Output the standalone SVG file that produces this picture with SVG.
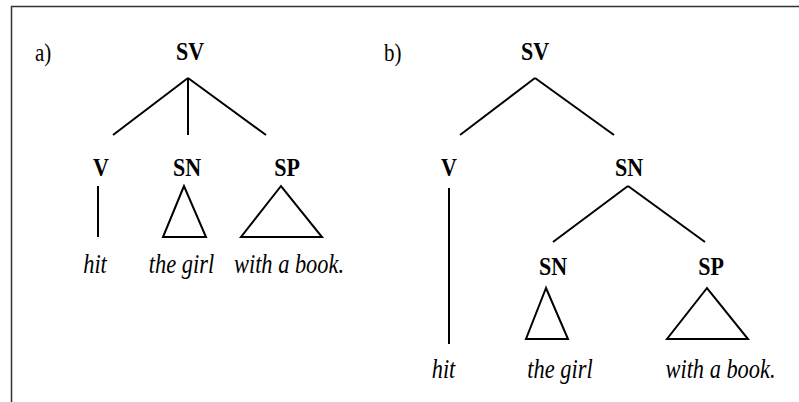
<svg xmlns="http://www.w3.org/2000/svg" width="799" height="402" viewBox="0 0 799 402">
<style>
.lab{font-family:"Liberation Serif","Times New Roman",serif;font-size:22px;font-weight:bold;fill:#000;text-anchor:middle}
.word{font-family:"Liberation Serif","Times New Roman",serif;font-size:22.4px;font-style:italic;fill:#000;text-anchor:middle}
.tag{font-family:"Liberation Serif","Times New Roman",serif;font-size:21px;fill:#000}
.ln{stroke:#000;stroke-width:2;fill:none;stroke-linecap:butt}
.tri{stroke:#000;stroke-width:2;fill:none;stroke-linejoin:miter}
</style>
<rect width="799" height="402" fill="#fff"/>
<path d="M11.5 402 V6.5 H799" stroke="#333" stroke-width="1.5" fill="none"/>
<text class="tag" transform="translate(35,61) scale(1,1.2)">a)</text>
<text class="tag" transform="translate(384,61) scale(1,1.2)">b)</text>
<g id="connectors">
<line class="ln" x1="188" y1="78" x2="113" y2="135"/>
<line class="ln" x1="188" y1="78" x2="188" y2="135"/>
<line class="ln" x1="188" y1="78" x2="266" y2="135"/>
<line class="ln" x1="98" y1="186" x2="98" y2="237"/>
<line class="ln" x1="535" y1="78" x2="460" y2="135"/>
<line class="ln" x1="535" y1="78" x2="614" y2="135"/>
<line class="ln" x1="449" y1="188" x2="449" y2="344"/>
<line class="ln" x1="628" y1="186" x2="553" y2="242"/>
<line class="ln" x1="628" y1="186" x2="705" y2="242"/>
</g>
<g id="a-SV"><text class="lab" transform="translate(190,60) scale(1,1.15)">SV</text></g>
<g id="a-V"><text class="lab" transform="translate(101,176) scale(1,1.15)">V</text></g>
<g id="a-SN"><text class="lab" transform="translate(187,176) scale(1,1.15)">SN</text>
<polygon class="tri" points="184,186 163,237 206,237"/></g>
<g id="a-SP"><text class="lab" transform="translate(287,176) scale(1,1.15)">SP</text>
<polygon class="tri" points="281,186 241,237 322,237"/></g>
<g id="a-hit"><text class="word" transform="translate(95,273) scale(1,1.22)">hit</text></g>
<g id="a-thegirl"><text class="word" transform="translate(181.5,273) scale(1,1.22)">the girl</text></g>
<g id="a-withabook"><text class="word" transform="translate(289,273) scale(1,1.22)">with a book.</text></g>
<g id="b-SV"><text class="lab" transform="translate(535,60) scale(1,1.15)">SV</text></g>
<g id="b-V"><text class="lab" transform="translate(449,176) scale(1,1.15)">V</text></g>
<g id="b-SN"><text class="lab" transform="translate(629,176) scale(1,1.15)">SN</text></g>
<g id="b-SN2"><text class="lab" transform="translate(553,275) scale(1,1.15)">SN</text>
<polygon class="tri" points="546,288 526,339 568,339"/></g>
<g id="b-SP"><text class="lab" transform="translate(711,275) scale(1,1.15)">SP</text>
<polygon class="tri" points="707,288 667,339 748,339"/></g>
<g id="b-hit"><text class="word" transform="translate(443.5,378) scale(1,1.22)">hit</text></g>
<g id="b-thegirl"><text class="word" transform="translate(560,378) scale(1,1.22)">the girl</text></g>
<g id="b-withabook"><text class="word" transform="translate(720.5,378) scale(1,1.22)">with a book.</text></g>
</svg>
